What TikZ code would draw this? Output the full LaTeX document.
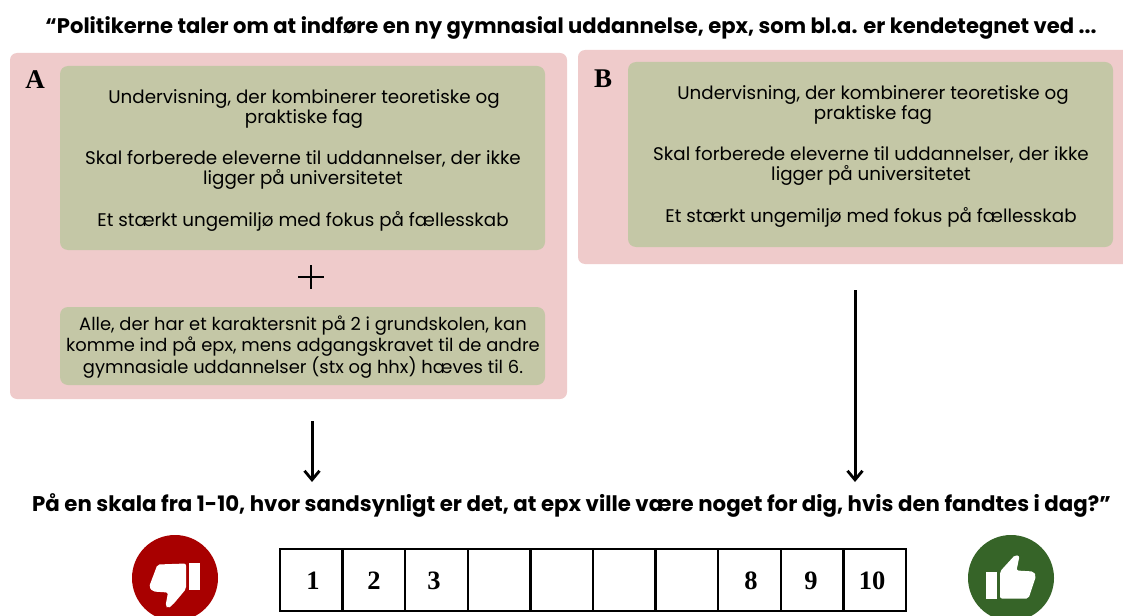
\documentclass[tikz,border=0pt]{standalone}
\usepackage{fontspec}
\setmainfont{Poppins}
\newfontfamily\serifnum{Liberation Serif}
\definecolor{pinkbox}{HTML}{EFCBCB}
\definecolor{olivebox}{HTML}{C4C7A6}
\definecolor{thumbred}{HTML}{A80000}
\definecolor{thumbgreen}{HTML}{366428}
\usetikzlibrary{arrows.meta}
\tikzset{
  panel/.style={fill=pinkbox,draw=none,rounded corners=7pt,inner sep=0pt},
  card/.style={fill=olivebox,draw=none,rounded corners=8pt,inner sep=0pt},
  body/.style={align=center,inner sep=0pt,font=\fontsize{18.3}{20.6}\selectfont,text=black},
  tight/.style={align=center,inner sep=0pt,font=\fontsize{17.9}{21}\selectfont,text=black},
  head/.style={inner sep=0pt,font=\bfseries\fontsize{21.1}{24}\selectfont,text=black},
  headq/.style={inner sep=0pt,font=\bfseries\fontsize{21.3}{24}\selectfont,text=black},
  letter/.style={inner sep=0pt,font=\serifnum\bfseries\fontsize{27}{29}\selectfont},
  num/.style={inner sep=0pt,font=\serifnum\bfseries\fontsize{26.5}{28}\selectfont},
  cell/.style={draw=black,line width=2.3pt,minimum width=62.6pt,minimum height=62pt,inner sep=0pt},
  flow/.style={draw=black,line width=3pt,-{Straight Barb[length=9pt,width=15pt,line width=2.8pt]}},
}
\begin{document}
\begin{tikzpicture}[x=1pt,y=-1pt]
\useasboundingbox (0,0) rectangle (1123,615);
\clip (0,0) rectangle (1123,615);
\node[head] (title) at (571,28) {“Politikerne taler om at indføre en ny gymnasial uddannelse, epx, som bl.a. er kendetegnet ved ...};
\path[panel] (10,53) rectangle (567,399);
\coordinate (panelAbottom) at (312,421);
\path[card] (60,66) rectangle (545,250);
\path[card] (60,307) rectangle (545,385);
\path[panel] (578,50) rectangle (1140,264);
\coordinate (panelBbottom) at (855,290);
\path[card] (628,62) rectangle (1113,247);
\node[letter] (la) at (35,80) {A};
\node[letter] (lb) at (603,79) {B};
\node[body] (a1) at (304,109) {Undervisning, der kombinerer teoretiske og\\praktiske fag};
\node[body] (a2) at (303,170) {Skal forberede eleverne til uddannelser, der ikke\\ligger på universitetet};
\node[body] (a3) at (303,221) {Et stærkt ungemiljø med fokus på fællesskab};
\node[body] (b1) at (873,105) {Undervisning, der kombinerer teoretiske og\\praktiske fag};
\node[body] (b2) at (871,166) {Skal forberede eleverne til uddannelser, der ikke\\ligger på universitetet};
\node[body] (b3) at (871,217) {Et stærkt ungemiljø med fokus på fællesskab};
\draw[black,line width=2.6pt] (298,277) -- (324,277) (311,265) -- (311,289);
\node[tight] (a4) at (303,347) {Alle, der har et karaktersnit på 2 i grundskolen, kan\\komme ind på epx, mens adgangskravet til de andre\\gymnasiale uddannelser (stx og hhx) hæves til 6.};
\node[headq] (question) at (571.5,505) {På en skala fra 1-10, hvor sandsynligt er det, at epx ville være noget for dig, hvis den fandtes i dag?”};
\coordinate (qa) at (312,482);
\coordinate (qb) at (855,482);
\draw[flow] (panelAbottom) -- (qa);
\draw[flow] (panelBbottom) -- (qb);
% scale
\foreach \i in {1,...,10}{
  \node[cell] (c\i) at ({280+62.6*(\i-0.5)},580) {};
}
\foreach \x/\t in {313/1,374/2,434/3,751/8,811/9,872/10}{
  \node[num] (n\t) at (\x,581) {\t};
}
% thumbs
\fill[thumbred] (175,578) circle (43);
\fill[white] (189.3,563) rectangle (200,590);
\fill[white,rounded corners=2pt] (157.5,564.5) -- (186,563.5) -- (186,589) -- (173,604.5) -- (168,608.5) -- (165.5,606) -- (168,592.5) -- (153,591.5) -- (149,587) -- cycle;
\fill[thumbgreen] (1011,578) circle (43);
\fill[white] (985.7,572.3) rectangle (996.7,599.3);
\fill[white,rounded corners=2pt] (1000,571.5) -- (1015,555) -- (1019.5,556) -- (1016.5,570.5) -- (1033.5,571.5) -- (1036,576) -- (1028.5,598.5) -- (1000,598.5) -- cycle;
\end{tikzpicture}
\end{document}
